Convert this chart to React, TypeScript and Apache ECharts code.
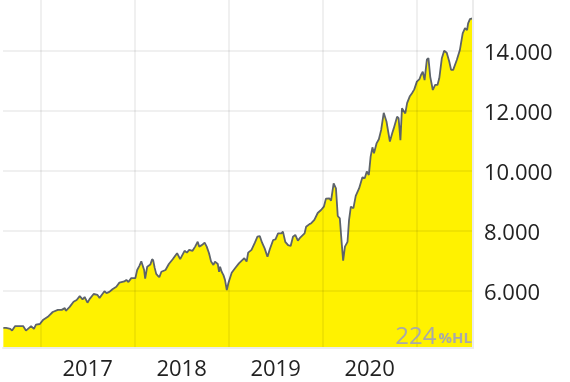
import React, { useEffect, useRef } from "react";
import * as echarts from "echarts";

// Fund value (index) readings, 2016-08 .. 2021-08
const dates: string[] = [
  "2016-08-09","2016-08-20","2016-09-05","2016-09-12","2016-09-24","2016-10-09","2016-10-25","2016-11-05","2016-11-25","2016-12-06","2016-12-14","2016-12-29",
  "2017-01-10","2017-01-29","2017-02-17","2017-03-09","2017-03-24","2017-04-05","2017-04-09","2017-04-24","2017-05-09","2017-05-21","2017-06-02","2017-06-13","2017-06-21","2017-07-02","2017-07-10","2017-07-26","2017-08-10","2017-08-18","2017-08-29","2017-09-06","2017-09-14","2017-09-25","2017-10-07","2017-10-22","2017-11-03","2017-11-22","2017-11-30","2017-12-08","2017-12-19",
  "2018-01-04","2018-01-11","2018-01-19","2018-01-27","2018-02-07","2018-02-11","2018-02-19","2018-03-03","2018-03-10","2018-03-14","2018-03-20","2018-03-26","2018-04-02","2018-04-07","2018-04-15","2018-05-01","2018-05-14","2018-05-29","2018-06-15","2018-06-27","2018-07-14","2018-07-23","2018-08-01","2018-08-14","2018-08-24","2018-09-03","2018-09-09","2018-09-19","2018-09-30","2018-10-08","2018-10-17","2018-10-25","2018-11-03","2018-11-09","2018-11-20","2018-11-25","2018-11-29","2018-12-05","2018-12-12","2018-12-18","2018-12-25","2018-12-31",
  "2019-01-13","2019-01-26","2019-02-10","2019-02-23","2019-03-03","2019-03-12","2019-03-18","2019-03-31","2019-04-13","2019-04-23","2019-05-02","2019-05-11","2019-05-21","2019-06-01","2019-06-10","2019-06-23","2019-07-02","2019-07-12","2019-07-25","2019-07-31","2019-08-09","2019-08-20","2019-08-30","2019-09-08","2019-09-17","2019-09-27","2019-10-07","2019-10-23","2019-10-29","2019-11-11","2019-11-18","2019-11-30","2019-12-13","2019-12-26",
  "2020-01-06","2020-01-14","2020-01-27","2020-02-03","2020-02-13","2020-02-22","2020-02-29","2020-03-08","2020-03-16","2020-03-21","2020-03-28","2020-04-07","2020-04-13","2020-04-20","2020-04-30","2020-05-09","2020-05-22","2020-06-04","2020-06-13","2020-06-21","2020-06-29","2020-07-06","2020-07-13","2020-07-19","2020-07-29","2020-08-07","2020-08-16","2020-08-26","2020-09-06","2020-09-19","2020-09-28","2020-10-04","2020-10-17","2020-10-23","2020-10-30","2020-11-05","2020-11-18","2020-11-25","2020-12-05","2020-12-14","2020-12-23",
  "2021-01-02","2021-01-12","2021-01-18","2021-01-25","2021-02-01","2021-02-10","2021-02-16","2021-02-23","2021-03-05","2021-03-14","2021-03-23","2021-03-30","2021-04-09","2021-04-18","2021-04-28","2021-05-08","2021-05-15","2021-05-23","2021-06-06","2021-06-18","2021-06-29","2021-07-08","2021-07-16","2021-07-20","2021-07-27","2021-08-06",
];

const values: number[] = [
  4760,4760,4730,4670,4820,4820,4820,4670,4820,4730,4870,4890,
  5020,5130,5290,5360,5360,5420,5330,5460,5630,5690,5820,5710,5790,5600,5720,5890,5860,5760,5890,5980,5920,5960,6050,6130,6270,6310,6360,6290,6420,
  6420,6690,6820,6980,6690,6400,6800,6870,7050,7020,6760,6560,6490,6450,6630,6690,6890,7050,7250,7050,7330,7270,7360,7330,7470,7630,7470,7520,7600,7470,7250,6970,6860,6970,6890,6630,6800,6630,6520,6360,6020,6250,
  6600,6750,6910,7020,7080,6970,7270,7360,7600,7800,7820,7600,7410,7130,7380,7690,7710,7910,7910,7970,7630,7520,7490,7800,7860,7670,7780,7910,8130,8220,8250,8360,8590,8690,
  8800,9070,9080,9000,9580,9410,8490,8410,7520,7000,7470,7630,8360,8800,8750,9160,9410,9780,9750,9970,9860,10470,10780,10580,10910,11050,11360,11930,11630,10970,11250,11410,11800,11750,11020,12080,11910,12250,12470,12580,12710,
  12970,13050,13190,13300,13020,13710,13750,13130,12690,12860,12860,13080,13750,14000,13930,13630,13360,13360,13690,14020,14580,14750,14690,14910,15050,15080,
];

const yearLabels: number[] = [2017, 2018, 2019, 2020];
const performanceValue = "224";
const performanceUnit = "%HL";

const toYear = (s: string): number => {
  const [y, m, d] = s.split("-").map(Number);
  const t = Date.UTC(y, m - 1, d);
  const a = Date.UTC(y, 0, 1);
  const b = Date.UTC(y + 1, 0, 1);
  return y + (t - a) / (b - a);
};

const fmtThousands = (v: number): string =>
  Math.round(v).toString().replace(/\B(?=(\d{3})+(?!\d))/g, ".");

const FONT = "Open Sans";
const GRID_COLOR = "rgba(0,0,0,0.06)";
const MARK_COLOR = "#a9a9a9";

export default function App() {
  const ref = useRef<HTMLDivElement>(null);

  useEffect(() => {
    if (!ref.current) return;
    const chart = echarts.init(ref.current, undefined, { renderer: "svg" });
    const data = dates.map((d, i) => [toYear(d), values[i]]);

    chart.setOption({
      animation: false,
      textStyle: { fontFamily: FONT },
      grid: { left: 0, right: 97, top: 0, bottom: 34 },
      xAxis: [
        {
          type: "value",
          min: 2016.6,
          max: 2021.6,
          z: 5,
          axisLine: { show: true, lineStyle: { color: "#ececec", width: 2 } },
          axisTick: { show: false },
          axisLabel: { show: false },
          splitLine: {
            show: true,
            showMinLine: false,
            showMaxLine: false,
            lineStyle: { color: GRID_COLOR, width: 2 },
          },
        },
        {
          // label axis: shifted by half a year so labels sit mid-year
          type: "value",
          position: "bottom",
          min: 2016.1,
          max: 2021.1,
          axisLine: { show: false },
          axisTick: { show: false },
          splitLine: { show: false },
          axisLabel: {
            color: "#222",
            fontSize: 22,
            fontFamily: FONT,
            margin: 8,
            formatter: (v: number) => {
              const r = Math.round(v);
              return Math.abs(v - r) < 1e-6 && yearLabels.includes(r) ? String(r) : "";
            },
          },
        },
      ],
      yAxis: {
        type: "value",
        position: "right",
        min: 4090,
        max: 15690,
        splitNumber: 5,
        z: 5,
        axisLine: { show: true, lineStyle: { color: "#ececec", width: 2 } },
        axisTick: { show: false },
        axisLabel: {
          color: "#222",
          fontSize: 22,
          fontFamily: FONT,
          margin: 11,
          showMinLabel: false,
          showMaxLabel: false,
          formatter: (v: number) => (Math.abs(v % 2000) < 1e-6 ? fmtThousands(v) : ""),
        },
        splitLine: {
          show: true,
          showMinLine: false,
          showMaxLine: false,
          lineStyle: { color: GRID_COLOR, width: 2 },
        },
      },
      series: [
        {
          type: "line",
          xAxisIndex: 0,
          yAxisIndex: 0,
          data,
          showSymbol: false,
          symbol: "none",
          z: 1,
          lineStyle: { color: "#5d636a", width: 1.8 },
          areaStyle: { color: "#fff200", opacity: 1, origin: "start" },
        },
      ],
      graphic: [
        {
          type: "text",
          right: 98,
          bottom: 36,
          z: 10,
          style: {
            text: `{a|${performanceValue}}{b|${performanceUnit}}`,
            fill: MARK_COLOR,
            rich: {
              a: { fontSize: 24, fill: MARK_COLOR, fontFamily: FONT, verticalAlign: "bottom", lineHeight: 26 },
              b: { fontSize: 15, fontWeight: "bold", fill: MARK_COLOR, fontFamily: FONT, padding: [0, 0, 2, 2], verticalAlign: "bottom", lineHeight: 26 },
            },
          },
        },
      ],
    });

    return () => chart.dispose();
  }, []);

  return (
    <div
      ref={ref}
      style={{ position: "fixed", left: 0, top: 0, width: 570, height: 382 }}
    />
  );
}
